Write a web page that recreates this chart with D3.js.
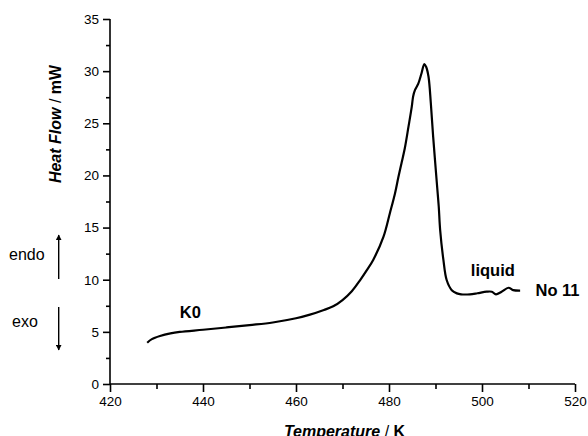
<!DOCTYPE html>
<html>
<head>
<meta charset="utf-8">
<script src="https://cdn.jsdelivr.net/npm/d3@7"></script>
<style>
    body { margin: 0; background: #fff; }
    text { font-family: "Liberation Sans", Arial, sans-serif; fill: #000; }
</style>
</head>
<body>
<div id="chart"></div>
<script>
// DSC trace
let temperature = [428.0, 429.0, 430.75, 433, 435, 440, 445, 450, 455, 460, 463, 466, 468, 470, 472, 473.8,
    475.2, 476.6, 478.8, 480.2, 481.3, 482.0, 482.7, 483.4, 484.2, 484.9, 485.2, 485.6, 486.3, 487.0,
    487.6, 488.0, 488.5, 489.0, 489.5, 490.3, 490.7, 491.0, 491.7, 492.4, 493.5, 494.6, 495.5, 497.4,
    499, 501.0, 502.1, 503.0, 504.2, 505.7, 506.7, 508.2];
let heatFlow = [3.96, 4.3, 4.6, 4.85, 4.99, 5.2, 5.42, 5.65, 5.9, 6.3, 6.65, 7.1, 7.45, 8.05, 8.9, 9.97,
    10.9, 11.9, 14.1, 16.4, 18.3, 19.8, 21.2, 22.6, 24.7, 26.6, 27.6, 28.2, 28.8, 29.8,
    30.68, 30.4, 29.46, 26.9, 23.7, 19.2, 17.0, 14.77, 11.9, 9.97, 9.0, 8.69, 8.6, 8.6,
    8.7, 8.85, 8.85, 8.6, 8.85, 9.23, 9.0, 8.95];

let xTicks = [420, 440, 460, 480, 500, 520];
let yTicks = [0, 5, 10, 15, 20, 25, 30, 35];

// text labels placed on the plot
let notes = [
    {text: "K0", t: 435.0, v: 6.3},
    {text: "liquid", t: 497.6, v: 10.35},
    {text: "No 11", t: 511.5, v: 8.45}
];

function showDscChart()
{
    let width = 588;
    let height = 436;
    let left = 110, right = 575, top = 19, bottom = 384;

    let svg = d3.select("#chart")
        .append("svg")
        .attr("width", width)
        .attr("height", height);

    let x = d3.scaleLinear().domain([420, 520]).range([left, right]);
    let y = d3.scaleLinear().domain([0, 35]).range([bottom, top]);

    // x axis: major ticks every 20, minor in between
    let xAxis = svg.append("g")
        .attr("transform", `translate(0, ${bottom})`)
        .call(d3.axisBottom(x).tickValues(xTicks).tickSize(8).tickPadding(4).tickFormat(d3.format("d")));
    svg.append("g")
        .attr("transform", `translate(0, ${bottom})`)
        .call(d3.axisBottom(x).tickValues(d3.range(430, 520, 20)).tickSize(5).tickFormat(""))
        .select(".domain").remove();

    // y axis
    let yAxis = svg.append("g")
        .attr("transform", `translate(${left}, 0)`)
        .call(d3.axisLeft(y).tickValues(yTicks).tickSize(7).tickPadding(4).tickFormat(d3.format("d")));
    svg.append("g")
        .attr("transform", `translate(${left}, 0)`)
        .call(d3.axisLeft(y).tickValues(d3.range(2.5, 35, 5)).tickSize(4).tickFormat(""))
        .select(".domain").remove();

    svg.selectAll(".domain, .tick line")
        .attr("stroke", "#000")
        .attr("stroke-width", 1.6);
    svg.selectAll(".tick text")
        .style("font-size", "13.5px")
        .style("font-family", "'Liberation Sans', Arial, sans-serif");
    xAxis.selectAll(".domain").attr("d", `M${left},0H${right}`);
    yAxis.selectAll(".domain").attr("d", `M0,${bottom}V${top}`);

    // the trace
    let points = temperature.map(function (t, i) { return [t, heatFlow[i]]; });
    let line = d3.line()
        .x(function (d) { return x(d[0]); })
        .y(function (d) { return y(d[1]); })
        .curve(d3.curveCatmullRom.alpha(0.5));

    svg.append("path")
        .datum(points)
        .attr("d", line)
        .attr("fill", "none")
        .attr("stroke", "#000")
        .attr("stroke-width", 2.2);

    // axis titles
    let yTitle = svg.append("text")
        .attr("transform", "translate(61, 124) rotate(-90)")
        .attr("text-anchor", "middle")
        .style("font-size", "16px")
        .style("font-weight", "bold");
    yTitle.append("tspan").style("font-style", "italic").text("Heat Flow");
    yTitle.append("tspan").style("font-weight", "normal").text(" / ");
    yTitle.append("tspan").text("mW");

    let xTitle = svg.append("text")
        .attr("x", (left + right) / 2 + 2)
        .attr("y", 437)
        .attr("text-anchor", "middle")
        .style("font-size", "16px")
        .style("font-weight", "bold");
    xTitle.append("tspan").style("font-style", "italic").text("Temperature");
    xTitle.append("tspan").style("font-weight", "normal").text(" / ");
    xTitle.append("tspan").text("K");

    // endo / exo arrows
    let defs = svg.append("defs");
    defs.append("marker")
        .attr("id", "head")
        .attr("viewBox", "0 0 10 10")
        .attr("refX", 9).attr("refY", 5)
        .attr("markerWidth", 6).attr("markerHeight", 4)
        .attr("markerUnits", "strokeWidth")
        .attr("orient", "auto")
        .append("path")
        .attr("d", "M0,0L10,5L0,10Z")
        .attr("fill", "#000");

    svg.append("text").attr("x", 9).attr("y", 260).style("font-size", "16px").text("endo");
    svg.append("text").attr("x", 12).attr("y", 327).style("font-size", "16px").text("exo");
    svg.append("line")
        .attr("x1", 58.7).attr("y1", 279).attr("x2", 58.7).attr("y2", 235)
        .attr("stroke", "#000").attr("stroke-width", 1.4)
        .attr("marker-end", "url(#head)");
    svg.append("line")
        .attr("x1", 58.7).attr("y1", 307).attr("x2", 58.7).attr("y2", 350)
        .attr("stroke", "#000").attr("stroke-width", 1.4)
        .attr("marker-end", "url(#head)");

    svg.selectAll(".note")
        .data(notes)
        .join("text")
        .attr("class", "note")
        .attr("x", function (d) { return x(d.t); })
        .attr("y", function (d) { return y(d.v); })
        .style("font-size", "16.5px")
        .style("font-weight", "bold")
        .text(function (d) { return d.text; });
}

showDscChart();
</script>
</body>
</html>
